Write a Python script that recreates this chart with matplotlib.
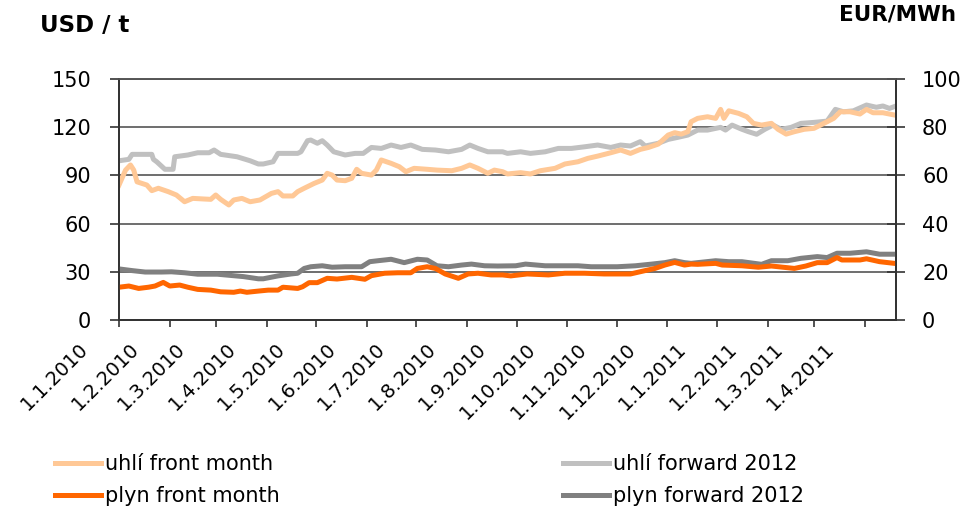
import matplotlib
matplotlib.use("Agg")
import matplotlib.pyplot as plt
import matplotlib.transforms as mtransforms
import pandas as pd

# uhlí front month (USD/t, levá osa)
coal_front_dates = [
    "2010-01-01", "2010-01-05", "2010-01-08", "2010-01-10", "2010-01-12", "2010-01-15",
    "2010-01-18", "2010-01-21", "2010-01-25", "2010-01-31", "2010-02-05", "2010-02-10",
    "2010-02-15", "2010-02-22", "2010-02-26", "2010-03-01", "2010-03-04", "2010-03-09",
    "2010-03-12", "2010-03-17", "2010-03-22", "2010-03-28", "2010-04-04", "2010-04-08",
    "2010-04-11", "2010-04-17", "2010-04-20", "2010-04-24", "2010-04-30", "2010-05-05",
    "2010-05-08", "2010-05-11", "2010-05-14", "2010-05-19", "2010-05-23", "2010-05-26",
    "2010-05-29", "2010-06-04", "2010-06-07", "2010-06-10", "2010-06-16", "2010-06-21",
    "2010-06-25", "2010-06-30", "2010-07-08", "2010-07-14", "2010-07-23", "2010-07-29",
    "2010-08-03", "2010-08-08", "2010-08-14", "2010-08-18", "2010-08-23", "2010-08-26",
    "2010-09-03", "2010-09-09", "2010-09-15", "2010-09-24", "2010-09-30", "2010-10-08",
    "2010-10-14", "2010-10-20", "2010-10-28", "2010-11-03", "2010-11-09", "2010-11-15",
    "2010-11-20", "2010-11-26", "2010-12-02", "2010-12-06", "2010-12-10", "2010-12-14",
    "2010-12-16", "2010-12-20", "2010-12-26", "2010-12-31", "2011-01-03", "2011-01-05",
    "2011-01-08", "2011-01-14", "2011-01-19", "2011-01-23", "2011-01-28", "2011-02-03",
    "2011-02-07", "2011-02-12", "2011-02-17", "2011-02-23", "2011-03-01", "2011-03-07",
    "2011-03-13", "2011-03-17", "2011-03-23", "2011-03-29", "2011-04-02", "2011-04-06",
    "2011-04-12", "2011-04-19",
]
coal_front = [
    84, 93.3, 96.5, 93.3, 86, 85,
    84, 80.5, 82, 79.9, 77.8, 73.6,
    75.7, 75.3, 75.1, 77.8, 75.1, 71.6,
    74.7, 75.7, 73.6, 74.7, 78.8, 79.9,
    77.2, 77.2, 79.9, 82, 85, 87.1,
    91.3, 90.2, 87.1, 86.7, 88.2, 93.8,
    91.3, 90.2, 93.3, 99.6, 97.5, 95.4,
    92.3, 94.4, 93.8, 93.3, 92.9, 94.4,
    96.5, 94.4, 91.3, 93.3, 92.3, 90.9,
    91.7, 90.9, 92.9, 94.4, 97.1, 98.5,
    100.6, 102, 104.1, 105.8, 103.7, 106.2,
    107.4, 109.5, 115.1, 116.6, 115.7, 117.2,
    123.4, 125.5, 126.5, 125.5, 131.1, 125.5,
    130.2, 128.6, 126.5, 122.4, 121.3, 122.4,
    118.7, 115.7, 117.2, 118.7, 119.3, 122.4,
    125.5, 129.6, 129.6, 128.2, 131.1, 129,
    129, 127.6,
]

# uhlí forward 2012 (USD/t, levá osa)
coal_fwd_dates = [
    "2010-01-01", "2010-01-07", "2010-01-09", "2010-01-21", "2010-01-22", "2010-01-24",
    "2010-01-29", "2010-02-03", "2010-02-04", "2010-02-12", "2010-02-18", "2010-02-25",
    "2010-02-28", "2010-03-04", "2010-03-14", "2010-03-22", "2010-03-27", "2010-03-30",
    "2010-04-05", "2010-04-08", "2010-04-20", "2010-04-22", "2010-04-26", "2010-04-28",
    "2010-05-02", "2010-05-05", "2010-05-08", "2010-05-12", "2010-05-19", "2010-05-25",
    "2010-05-30", "2010-06-04", "2010-06-10", "2010-06-16", "2010-06-22", "2010-06-28",
    "2010-07-05", "2010-07-13", "2010-07-21", "2010-07-29", "2010-08-03", "2010-08-08",
    "2010-08-14", "2010-08-23", "2010-08-26", "2010-09-03", "2010-09-09", "2010-09-18",
    "2010-09-26", "2010-10-04", "2010-10-12", "2010-10-20", "2010-10-28", "2010-11-03",
    "2010-11-09", "2010-11-15", "2010-11-18", "2010-11-26", "2010-12-02", "2010-12-08",
    "2010-12-14", "2010-12-20", "2010-12-26", "2011-01-03", "2011-01-06", "2011-01-10",
    "2011-01-16", "2011-01-20", "2011-01-25", "2011-01-30", "2011-02-04", "2011-02-09",
    "2011-02-15", "2011-02-21", "2011-03-01", "2011-03-09", "2011-03-14", "2011-03-19",
    "2011-03-25", "2011-04-02", "2011-04-08", "2011-04-12", "2011-04-16", "2011-04-20",
]
coal_fwd = [
    99.1, 100, 103.1, 103.1, 100, 98.5,
    93.8, 93.8, 101.6, 102.7, 104.1, 104.1,
    105.8, 103.1, 101.6, 99.1, 97.1, 97.1,
    98.5, 103.7, 103.7, 104.7, 111.6, 112,
    110, 111.6, 108.9, 104.7, 102.7, 103.7,
    103.7, 107.4, 106.8, 108.9, 107.4, 108.9,
    106.2, 105.8, 104.7, 106.2, 108.9, 106.8,
    104.7, 104.7, 103.7, 104.7, 103.7, 104.7,
    106.8, 106.8, 107.8, 108.9, 107.4, 108.9,
    108.3, 111, 108.3, 110, 112.4, 113.7,
    115.1, 118.2, 118.2, 119.9, 118.2, 121.3,
    118.7, 117.2, 115.6, 118.7, 121.3, 118.7,
    119.9, 122.4, 123, 123.8, 131.1, 129.6,
    130.2, 133.8, 132.4, 133.2, 131.7, 133.2,
]

# plyn front month (EUR/MWh, pravá osa)
gas_front_dates = [
    "2010-01-01", "2010-01-07", "2010-01-13", "2010-01-19", "2010-01-23", "2010-01-28",
    "2010-02-01", "2010-02-07", "2010-02-12", "2010-02-18", "2010-02-26", "2010-03-04",
    "2010-03-12", "2010-03-16", "2010-03-20", "2010-03-27", "2010-04-02", "2010-04-08",
    "2010-04-11", "2010-04-20", "2010-04-23", "2010-04-27", "2010-05-02", "2010-05-08",
    "2010-05-14", "2010-05-23", "2010-05-31", "2010-06-04", "2010-06-12", "2010-06-20",
    "2010-06-28", "2010-07-02", "2010-07-08", "2010-07-13", "2010-07-19", "2010-07-27",
    "2010-08-02", "2010-08-08", "2010-08-16", "2010-08-23", "2010-08-28", "2010-09-07",
    "2010-09-20", "2010-09-30", "2010-10-12", "2010-10-24", "2010-11-09", "2010-11-18",
    "2010-11-24", "2010-11-30", "2010-12-06", "2010-12-12", "2010-12-16", "2010-12-20",
    "2010-12-31", "2011-01-04", "2011-01-16", "2011-01-26", "2011-02-03", "2011-02-17",
    "2011-02-24", "2011-03-03", "2011-03-09", "2011-03-15", "2011-03-18", "2011-03-29",
    "2011-04-02", "2011-04-10", "2011-04-19",
]
gas_front = [
    13.6, 14.1, 13.1, 13.6, 14.1, 15.6,
    14.1, 14.5, 13.6, 12.7, 12.4, 11.7,
    11.5, 12.0, 11.5, 12.0, 12.4, 12.4,
    13.6, 13.1, 13.8, 15.5, 15.5, 17.3,
    17.0, 17.7, 16.9, 18.4, 19.4, 19.6,
    19.6, 21.4, 22.1, 21.4, 19.1, 17.3,
    19.1, 19.4, 18.7, 18.7, 18.3, 19.1,
    18.7, 19.4, 19.4, 19.1, 19.1, 20.5,
    21.4, 22.8, 23.9, 22.8, 23.2, 23.1,
    23.5, 22.8, 22.5, 21.9, 22.4, 21.4,
    22.4, 23.8, 23.8, 25.9, 24.9, 24.9,
    25.4, 24.2, 23.5,
]

# plyn forward 2012 (EUR/MWh, pravá osa)
gas_fwd_dates = [
    "2010-01-01", "2010-01-09", "2010-01-17", "2010-01-27", "2010-02-02", "2010-02-10",
    "2010-02-18", "2010-03-02", "2010-03-10", "2010-03-18", "2010-03-27", "2010-03-30",
    "2010-04-08", "2010-04-16", "2010-04-20", "2010-04-24", "2010-04-28", "2010-05-05",
    "2010-05-11", "2010-05-19", "2010-05-29", "2010-06-03", "2010-06-08", "2010-06-16",
    "2010-06-24", "2010-07-02", "2010-07-08", "2010-07-14", "2010-07-21", "2010-07-29",
    "2010-08-04", "2010-08-12", "2010-08-20", "2010-08-31", "2010-09-06", "2010-09-18",
    "2010-10-08", "2010-10-16", "2010-11-01", "2010-11-12", "2010-11-22", "2010-11-30",
    "2010-12-06", "2010-12-12", "2010-12-16", "2010-12-20", "2010-12-31", "2011-01-08",
    "2011-01-16", "2011-01-28", "2011-02-03", "2011-02-13", "2011-02-21", "2011-03-03",
    "2011-03-09", "2011-03-15", "2011-03-23", "2011-04-02", "2011-04-10", "2011-04-19",
]
gas_fwd = [
    21.2, 20.5, 19.9, 19.9, 20.0, 19.6,
    19.0, 19.0, 18.5, 18.0, 17.1, 17.1,
    18.3, 19.1, 19.4, 21.4, 22.1, 22.5,
    21.9, 22.1, 22.1, 24.2, 24.6, 25.2,
    23.8, 25.2, 24.9, 22.5, 22.1, 22.8,
    23.2, 22.5, 22.4, 22.5, 23.2, 22.5,
    22.5, 22.1, 22.1, 22.5, 23.2, 23.8,
    24.6, 23.8, 23.5, 23.8, 24.6, 24.2,
    24.2, 23.1, 24.6, 24.6, 25.6, 26.3,
    25.9, 27.7, 27.7, 28.3, 27.3, 27.3,
]

month_ticks = pd.date_range("2010-01-01", "2011-04-01", freq="MS")
tick_labels = [f"{d.day}.{d.month}.{d.year}" for d in month_ticks]

c_coal_front = "#FFC896"
c_coal_fwd = "#C0C0C0"
c_gas_front = "#FF6600"
c_gas_fwd = "#808080"
grid_col = "#555555"
axis_col = "#333333"

plt.rcParams["font.family"] = ["DejaVu Sans"]

fig = plt.figure(figsize=(9.7, 5.07), dpi=100)
ax = fig.add_axes([119 / 970, 1 - 320 / 507, (896 - 119) / 970, (320 - 79) / 507])
ax2 = ax.twinx()

lw = 3.6
l1, = ax.plot(pd.to_datetime(coal_fwd_dates), coal_fwd, color=c_coal_fwd, lw=lw,
              label="uhlí forward 2012", solid_joinstyle="round")
l2, = ax.plot(pd.to_datetime(coal_front_dates), coal_front, color=c_coal_front, lw=lw,
              label="uhlí front month", solid_joinstyle="round")
l3, = ax2.plot(pd.to_datetime(gas_fwd_dates), gas_fwd, color=c_gas_fwd, lw=lw,
               label="plyn forward 2012", solid_joinstyle="round")
l4, = ax2.plot(pd.to_datetime(gas_front_dates), gas_front, color=c_gas_front, lw=lw,
               label="plyn front month", solid_joinstyle="round")

ax.set_ylim(0, 150)
ax2.set_ylim(0, 100)
ax.set_yticks(range(0, 151, 30))
ax2.set_yticks(range(0, 101, 20))
ax.set_xlim(pd.Timestamp("2010-01-01"), pd.Timestamp("2011-04-20"))
ax.set_xticks(month_ticks)
ax.set_xticklabels(tick_labels, rotation=45, ha="right", fontsize=14)

ax.yaxis.grid(True, color=grid_col, lw=1.2)
ax.set_axisbelow(True)

for a in (ax, ax2):
    for s in a.spines.values():
        s.set_color(axis_col)
        s.set_linewidth(1.3)
    a.spines["top"].set_color(grid_col)
    a.spines["top"].set_linewidth(1.2)

ax.tick_params(axis="y", direction="out", length=6.5, width=1.2, color=axis_col,
               labelsize=15, pad=13.5)
ax.tick_params(axis="x", direction="out", length=5, width=1.2, color=axis_col, pad=9)
ax2.tick_params(axis="y", direction="inout", length=13.5, width=1.2, color=axis_col,
                labelsize=15, pad=12)

# posun popisků datumů doleva jako v originále
offset = mtransforms.ScaledTranslation(-27 / 100, 0, fig.dpi_scale_trans)
for lab in ax.get_xticklabels():
    lab.set_transform(lab.get_transform() + offset)

fig.text(40 / 970, 1 - 32 / 507, "USD / t", fontsize=16.5, fontweight="bold",
         ha="left", va="baseline")
fig.text(956 / 970, 1 - 20 / 507, "EUR/MWh", fontsize=15.5, fontweight="bold",
         ha="right", va="baseline")

fig.legend([l2, l4, l1, l3],
           ["uhlí front month", "plyn front month", "uhlí forward 2012", "plyn forward 2012"],
           ncol=2, loc="upper left", bbox_to_anchor=(55 / 970, 1 - 454 / 507),
           frameon=False, fontsize=15, handlelength=2.2, handletextpad=0.2,
           columnspacing=13.6, labelspacing=0.6, borderpad=0, borderaxespad=0)

fig.savefig("out.png", dpi=100)
